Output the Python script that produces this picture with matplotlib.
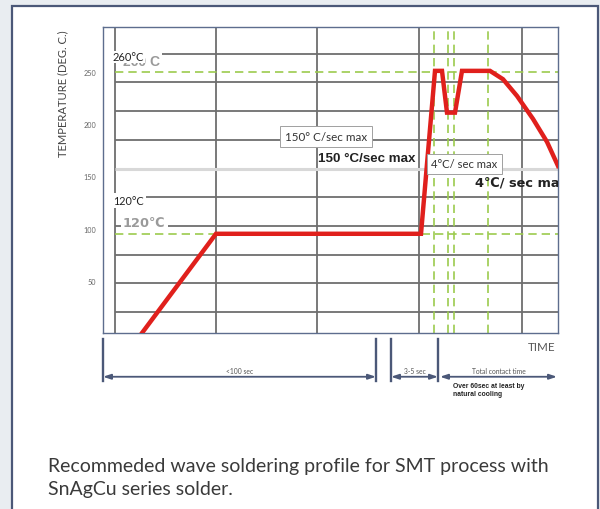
import matplotlib
matplotlib.use('Agg')
import matplotlib.pyplot as plt
import matplotlib.transforms as mtransforms
from matplotlib.patches import Rectangle

# ---- data (time in arbitrary units, temperature in deg C) ----
profile_time = [39, 113, 318, 332, 339, 344, 352, 359, 387, 400, 414, 430, 444, 455]
profile_temp = [0, 95, 95, 251, 251, 211, 211, 251, 251, 243, 227, 205, 183, 160]

grid_x = [12, 113, 214, 316, 419]
grid_y = [20, 47.5, 75, 102.5, 130, 185, 212.5, 240, 267.5]
light_grid_y = [157.5]
green_x = [331, 345, 351, 385]
green_y = [95, 250]

y_ticks = [50, 100, 150, 200, 250]

bracket_x = [0, 273, 288, 335]
intervals = [(0, 273, '<100 sec'), (288, 335, '3-5 sec'), (337, 454, 'Total contact time')]

caption_lines = ['Recommeded wave soldering profile for SMT process with',
                 'SnAgCu series solder.']

W, H = 600, 510
fig = plt.figure(figsize=(W / 100, H / 100), dpi=100, facecolor='#e9edf1')

# outer white card
fig.patches.append(Rectangle((12 / W, -0.05), (598 - 12) / W, 1 - 7 / H + 0.05,
                             transform=fig.transFigure, facecolor='white',
                             edgecolor='#4b5878', lw=1.6, zorder=-5))

ax = fig.add_axes([103 / W, 1 - 334 / H, 455 / W, 306 / H])
ax.set_zorder(2)
ax.set_xlim(0, 455)
ax.set_ylim(0, 293)
ax.set_facecolor('white')
for s in ax.spines.values():
    s.set_color('#5d6d8e')
    s.set_linewidth(1.0)

ax.set_xticks([])
ax.set_yticks(y_ticks)
ax.tick_params(axis='y', length=0, pad=5, labelsize=5.2, labelcolor='#666666')
for lab in ax.get_yticklabels():
    lab.set_family('Lato')

# grid
for gx in grid_x:
    ax.axvline(gx, color='#6e6e6e', lw=1.3, zorder=1)
ax.hlines(grid_y, 12, 455, color='#6e6e6e', lw=1.3, zorder=1)
ax.hlines(light_grid_y, 12, 455, color='#d8d8d8', lw=2.2, zorder=1)

# green dashed reference lines
for gx in green_x:
    ax.axvline(gx, color='#9ccb4e', lw=1.2, dashes=(5, 3), zorder=2)
ax.hlines(green_y, 12, 455, color='#9ccb4e', lw=1.2, linestyles=(0, (5, 3)), zorder=2)

# profile
ax.plot(profile_time, profile_temp, color='#e0201c', lw=3.2, zorder=3,
        solid_joinstyle='miter', clip_on=True)

# labels inside plot
ghost = dict(fc='white', ec='none', pad=1.5)
ax.text(20, 260.5, '260 C', fontsize=10, color='#9a9a9a', fontweight='bold',
        family='Liberation Sans', va='center', ha='left', bbox=ghost, zorder=5)
ax.text(10, 264.5, '260°C', fontsize=8, color='#222222', family='Lato',
        va='center', ha='left', bbox=dict(fc='white', ec='none', pad=0.3), zorder=6)
ax.text(20, 105.5, '120℃', fontsize=9.3, color='#9a9a9a', fontweight='bold',
        family='DejaVu Sans', va='center', ha='left', bbox=ghost, zorder=5)
ax.text(10, 126.5, '120°C', fontsize=7.8, color='#222222', family='Lato',
        va='center', ha='left', bbox=dict(fc='white', ec='none', pad=1.5), zorder=6)

ax.text(223, 188, '150° C/sec max', ha='center', va='center', fontsize=8.4,
        color='#333333', family='Lato', zorder=6,
        bbox=dict(boxstyle='square,pad=0.45', fc='white', ec='#a0a0a0', lw=0.7))
ax.text(215, 167.5, '150 °C/sec max', ha='left', va='center', fontsize=9.6,
        fontweight='bold', color='#222222', family='Liberation Sans', zorder=6)
ax.text(361.5, 162, '4°C/ sec max', ha='center', va='center', fontsize=8.1,
        color='#333333', family='Lato', zorder=7,
        bbox=dict(boxstyle='square,pad=0.4', fc='white', ec='#a0a0a0', lw=0.7))
ax.text(372, 145, '4℃/ sec max', ha='left', va='center', fontsize=9.4,
        fontweight='bold', color='#222222', family='DejaVu Sans', zorder=6,
        clip_on=True)

# y axis title
fig.text(63 / W, 1 - 94 / H, 'TEMPERATURE (DEG. C.)', rotation=90, ha='center',
         va='center', fontsize=8.1, color='#444444', family='Lato')

# time brackets beneath the axes
trans = mtransforms.blended_transform_factory(ax.transData, ax.transAxes)
def ay(px):
    return (334.25 - px) / 306.0

navy = '#4b5878'
for bx in bracket_x:
    ax.plot([bx, bx], [ay(340), ay(382)], transform=trans, color=navy, lw=1.7,
            clip_on=False)
for x0, x1, lab in intervals:
    ax.annotate('', xy=(x1, ay(378)), xytext=(x0, ay(378)), xycoords=trans,
                textcoords=trans, annotation_clip=False,
                arrowprops=dict(arrowstyle='<|-|>,head_length=0.45,head_width=0.15',
                                color=navy, lw=1.3, shrinkA=0, shrinkB=0))
    ax.text((x0 + x1) / 2, ay(372), lab, transform=trans, ha='center', va='center',
            fontsize=4.9, color='#555555', family='Lato')

ax.text(350, ay(383), 'Over 60sec at least by\nnatural cooling', transform=trans,
        ha='left', va='top', fontsize=4.9, fontweight='bold', color='#222222',
        family='Liberation Sans', linespacing=1.25)
ax.text(452, ay(348), 'TIME', transform=trans, ha='right', va='center',
        fontsize=8.4, color='#555555', family='Lato')

# caption
for i, line in enumerate(caption_lines):
    fig.text(48 / W, 1 - (467 + 23 * i) / H, line, ha='left', va='center',
             fontsize=14, color='#3a3a3a', family='Lato')

fig.savefig('out.png', dpi=100, facecolor=fig.get_facecolor())
